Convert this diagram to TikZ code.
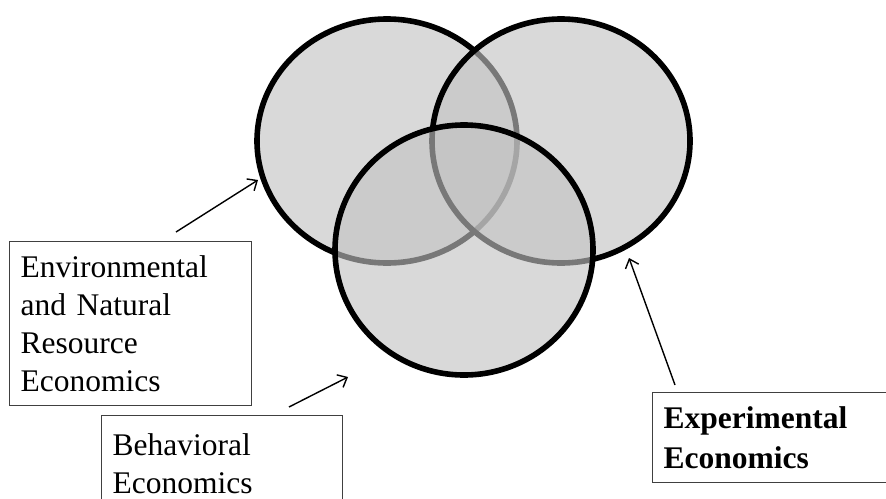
\documentclass[tikz,border=0pt]{standalone}
\usepackage{fontspec}
\setmainfont{Liberation Serif}
\usetikzlibrary{shapes.geometric,arrows.meta}
\begin{document}
\begin{tikzpicture}[x=0.5pt,y=-0.5pt,>={Straight Barb[length=4pt,width=7pt]},
  set/.style={ellipse, draw=black, line width=2.8pt, fill=black!24, fill opacity=0.62, inner sep=0pt},
  label box/.style={draw=black!75, line width=0.6pt, anchor=north west, align=left, inner xsep=5.5pt, inner ysep=7pt, font=\fontsize{15.75}{19}\selectfont},
  pointer/.style={->, line width=0.7pt}]
%%%%%%%%%%%%%%%%%%%%%%%%%%%%%%%%%%%%%%%%%%% frame
\useasboundingbox (0,0) rectangle (886,498);

%%%%%%%%%%%%%%%%%%%%%%%%%%%%%%%%%%%%%%%%%%% sets
\node[set, minimum width=130pt, minimum height=122pt](envset) at (387,141){};
\node[set, minimum width=129pt, minimum height=122pt](expset) at (561,141){};
\node[set, minimum width=129pt, minimum height=125pt](behset) at (464,250){};

%%%%% labels
\node[label box, text width=110pt](env) at (9,241){Environmental\\and Natural\\Resource\\Economics};
\node[label box, inner ysep=9pt, text width=109.5pt](beh) at (101,415){Behavioral\\Economics};
\node[label box, font=\bfseries\fontsize{15.75}{20}\selectfont, text width=130pt](exp) at (652,392){Experimental\\Economics};

%%%%% pointers
\coordinate (envtail) at (176,232);
\coordinate (envhead) at (258,180);
\coordinate (behtail) at (289,407);
\coordinate (behhead) at (348,377);
\coordinate (exptail) at (675,385);
\coordinate (exphead) at (629,258);
\draw[pointer] (envtail) -- (envhead);
\draw[pointer] (behtail) -- (behhead);
\draw[pointer] (exptail) -- (exphead);
\end{tikzpicture}
\end{document}
